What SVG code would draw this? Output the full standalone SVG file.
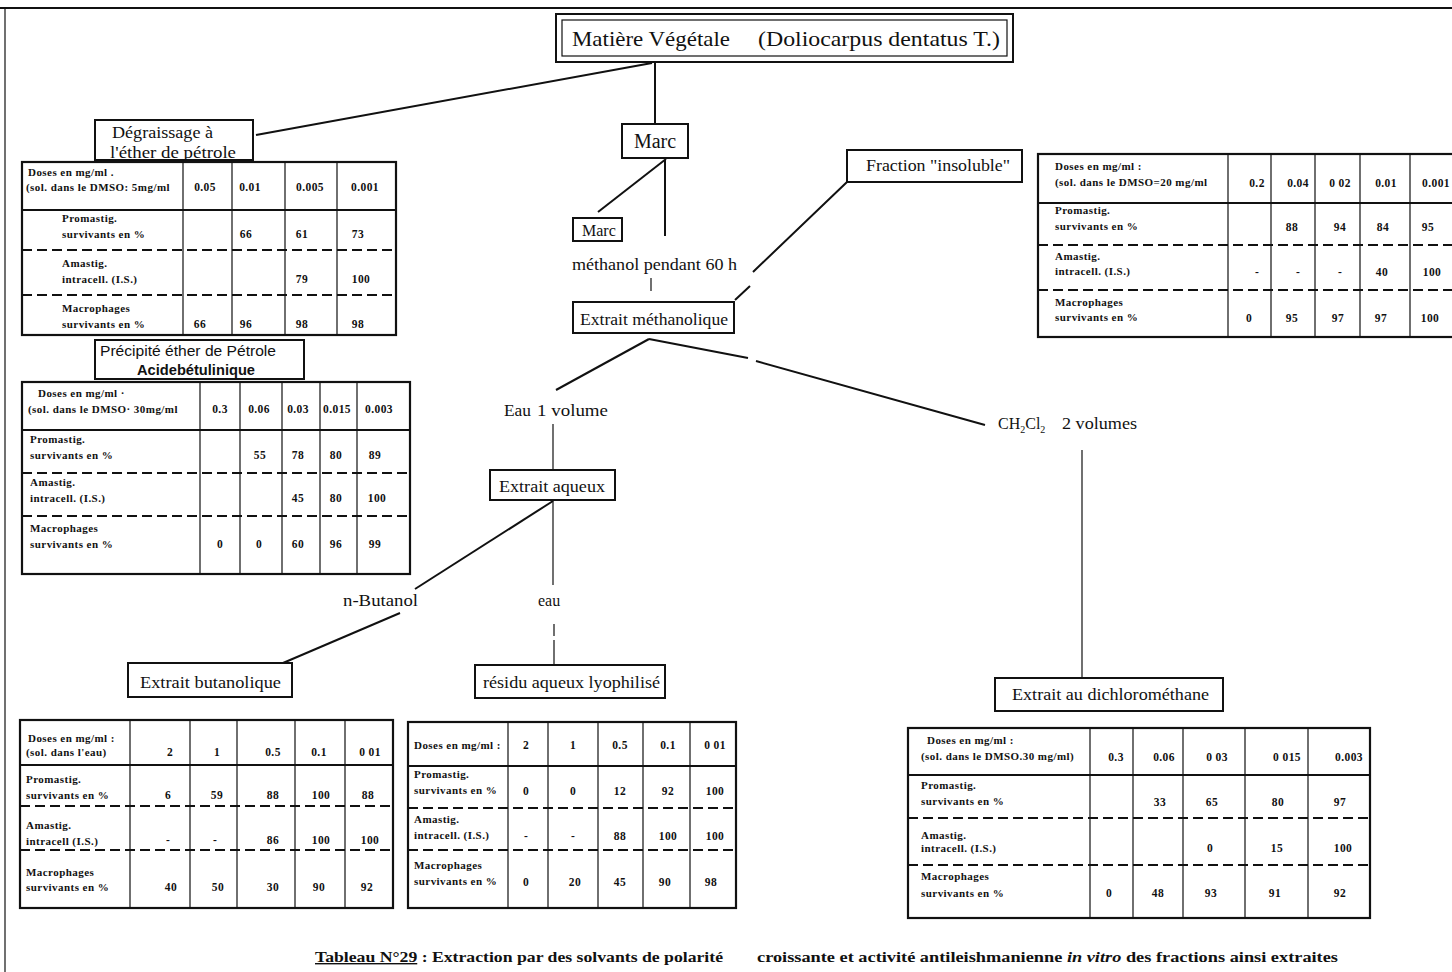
<svg xmlns="http://www.w3.org/2000/svg" width="1452" height="972" viewBox="0 0 1452 972">
<style>
.bg{fill:#fff}
.box{fill:none;stroke:#111;stroke-width:2}
.ln{fill:none;stroke:#111;stroke-width:2}
.thin{stroke-width:1.2}
.tbl{fill:none;stroke:#111;stroke-width:2.2}
.grid{fill:none;stroke:#111;stroke-width:1.2}
.hr{fill:none;stroke:#111;stroke-width:2}
.dash{stroke-dasharray:10 5}
.t{font-family:"Liberation Serif","Times New Roman",serif;fill:#111}
.n16{font-size:16px}
.n20{font-size:20px}
.s{font-family:"Liberation Sans",Arial,sans-serif;fill:#111;font-size:14px}
.c{font-family:"Liberation Serif","Times New Roman",serif;fill:#111;font-size:11px;font-weight:bold;letter-spacing:0.45px}
.v{font-family:"Liberation Serif","Times New Roman",serif;fill:#111;font-size:11.5px;font-weight:bold;text-anchor:middle;letter-spacing:0.4px}
.cap{font-family:"Liberation Serif","Times New Roman",serif;fill:#111;font-size:14px;font-weight:bold}
</style>
<rect class="bg" x="0" y="0" width="1452" height="972"/>

<!-- page frame -->
<g id="frame">
<path class="ln" d="M0 8H1452"/>
<path class="ln thin" d="M5 8V972"/>
</g>

<!-- connectors -->
<g id="connectors">
<path class="ln" d="M655 62V124"/>
<path class="ln" d="M652 63L256 135"/>
<path class="ln" d="M666 159L598 212"/>
<path class="ln" d="M665 160V236"/>
<path class="ln thin" d="M651 278V291"/>
<path class="ln" d="M735 300L750 286M753 272L847 182"/>
<path class="ln" d="M649 339L556 390"/>
<path class="ln" d="M649 339L748 358M756 361L985 425"/>
<path class="ln thin" d="M553 424V470"/>
<path class="ln" d="M553 501L415 589"/>
<path class="ln thin" d="M553 501V585"/>
<path class="ln" d="M400 613L283 663"/>
<path class="ln thin" d="M554 624V636M554 640V665"/>
<path class="ln thin" d="M1082 450V678"/>
</g>

<!-- title -->
<g id="n-matiere">
<rect class="box" x="556" y="14" width="457" height="48"/>
<rect class="box" x="562" y="20" width="445" height="36" style="stroke-width:1.2"/>
<text class="t" x="572" y="46" font-size="21" textLength="158" lengthAdjust="spacingAndGlyphs">Matière Végétale</text>
<text class="t" x="758" y="46" font-size="21" textLength="242" lengthAdjust="spacingAndGlyphs">(Doliocarpus dentatus T.)</text>
</g>

<g id="n-marc">
<rect class="box" x="622" y="124" width="66" height="34"/>
<text class="t n20" x="655" y="148" text-anchor="middle">Marc</text>
</g>

<g id="n-marc2">
<rect class="box" x="573" y="218" width="49" height="23"/>
<text class="t n16" x="582" y="236">Marc</text>
</g>

<g id="n-methanol">
<text class="t n16" x="572" y="270" textLength="165" lengthAdjust="spacingAndGlyphs">méthanol pendant 60 h</text>
</g>

<g id="n-extrait-meth">
<rect class="box" x="573" y="302" width="161" height="31"/>
<text class="t n16" x="580" y="325" textLength="148" lengthAdjust="spacingAndGlyphs">Extrait méthanolique</text>
</g>

<g id="n-insoluble">
<rect class="box" x="847" y="150" width="175" height="32"/>
<text class="t n16" x="866" y="171" textLength="144" lengthAdjust="spacingAndGlyphs">Fraction "insoluble"</text>
</g>

<g id="n-degraissage">
<rect class="box" x="95" y="120" width="158" height="40"/>
<text class="t n16" x="112" y="138" textLength="101" lengthAdjust="spacingAndGlyphs">Dégraissage à</text>
<text class="t n16" x="110" y="158" textLength="126" lengthAdjust="spacingAndGlyphs">l'éther de pétrole</text>
</g>

<g id="n-precipite">
<rect class="box" x="95" y="340" width="209" height="39"/>
<text class="s" x="100" y="356" textLength="176" lengthAdjust="spacingAndGlyphs">Précipité éther de Pétrole</text>
<text class="s" x="137" y="375" font-weight="bold" textLength="118" lengthAdjust="spacingAndGlyphs">Acidebétulinique</text>
</g>

<g id="n-eau1">
<text class="t n16" x="504" y="416" textLength="27" lengthAdjust="spacingAndGlyphs">Eau</text>
<text class="t n16" x="537" y="416" textLength="71" lengthAdjust="spacingAndGlyphs">1 volume</text>
</g>

<g id="n-ch2cl2">
<text class="t n16" x="998" y="429">CH<tspan font-size="10" dy="4">2</tspan><tspan dy="-4">Cl</tspan><tspan font-size="10" dy="4">2</tspan></text>
<text class="t n16" x="1062" y="429" textLength="75" lengthAdjust="spacingAndGlyphs">2 volumes</text>
</g>

<g id="n-extrait-aq">
<rect class="box" x="490" y="470" width="125" height="30"/>
<text class="t n16" x="499" y="492" textLength="106" lengthAdjust="spacingAndGlyphs">Extrait aqueux</text>
</g>

<g id="n-butanol">
<text class="t n16" x="343" y="606" textLength="75" lengthAdjust="spacingAndGlyphs">n-Butanol</text>
</g>

<g id="n-eau2">
<text class="t n16" x="538" y="606">eau</text>
</g>

<g id="n-extrait-but">
<rect class="box" x="128" y="663" width="164" height="34"/>
<text class="t n16" x="140" y="688" textLength="141" lengthAdjust="spacingAndGlyphs">Extrait butanolique</text>
</g>

<g id="n-residu">
<rect class="box" x="475" y="665" width="190" height="33"/>
<text class="t n16" x="483" y="688" textLength="177" lengthAdjust="spacingAndGlyphs">résidu aqueux lyophilisé</text>
</g>

<g id="n-extrait-dcm">
<rect class="box" x="995" y="678" width="228" height="33"/>
<text class="t n16" x="1012" y="700" textLength="197" lengthAdjust="spacingAndGlyphs">Extrait au dichlorométhane</text>
</g>

<!-- activity tables -->
<g id="t-degraissage">
<rect class="tbl" x="22" y="162" width="374" height="173"/>
<path class="grid" d="M183 162V335M232 162V335M285 162V335M337 162V335"/>
<path class="hr" d="M22 210H396"/>
<path class="hr dash" d="M22 250H396M22 295H396"/>
<text class="c" x="28" y="176">Doses en mg/ml .</text>
<text class="c" x="26" y="191">(sol. dans le DMSO: 5mg/ml</text>
<text class="c" x="62" y="222">Promastig.</text>
<text class="c" x="62" y="238">survivants en %</text>
<text class="c" x="62" y="267">Amastig.</text>
<text class="c" x="62" y="283">intracell. (I.S.)</text>
<text class="c" x="62" y="312">Macrophages</text>
<text class="c" x="62" y="328">survivants en %</text>
<text class="v" x="205" y="191">0.05</text><text class="v" x="250" y="191">0.01</text><text class="v" x="310" y="191">0.005</text><text class="v" x="365" y="191">0.001</text>
<text class="v" x="246" y="238">66</text><text class="v" x="302" y="238">61</text><text class="v" x="358" y="238">73</text>
<text class="v" x="302" y="283">79</text><text class="v" x="361" y="283">100</text>
<text class="v" x="200" y="328">66</text><text class="v" x="246" y="328">96</text><text class="v" x="302" y="328">98</text><text class="v" x="358" y="328">98</text>
</g>

<g id="t-precipite">
<rect class="tbl" x="22" y="382" width="388" height="192"/>
<path class="grid" d="M200 382V574M240 382V574M282 382V574M320 382V574M357 382V574"/>
<path class="hr" d="M22 430H410"/>
<path class="hr dash" d="M22 473H410M22 516H410"/>
<text class="c" x="38" y="397">Doses en mg/ml ·</text>
<text class="c" x="28" y="413">(sol. dans le DMSO· 30mg/ml</text>
<text class="c" x="30" y="443">Promastig.</text>
<text class="c" x="30" y="459">survivants en %</text>
<text class="c" x="30" y="486">Amastig.</text>
<text class="c" x="30" y="502">intracell. (I.S.)</text>
<text class="c" x="30" y="532">Macrophages</text>
<text class="c" x="30" y="548">survivants en %</text>
<text class="v" x="220" y="413">0.3</text><text class="v" x="259" y="413">0.06</text><text class="v" x="298" y="413">0.03</text><text class="v" x="337" y="413">0.015</text><text class="v" x="379" y="413">0.003</text>
<text class="v" x="260" y="459">55</text><text class="v" x="298" y="459">78</text><text class="v" x="336" y="459">80</text><text class="v" x="375" y="459">89</text>
<text class="v" x="298" y="502">45</text><text class="v" x="336" y="502">80</text><text class="v" x="377" y="502">100</text>
<text class="v" x="220" y="548">0</text><text class="v" x="259" y="548">0</text><text class="v" x="298" y="548">60</text><text class="v" x="336" y="548">96</text><text class="v" x="375" y="548">99</text>
</g>

<g id="t-insoluble">
<rect class="tbl" x="1038" y="154" width="420" height="183"/>
<path class="grid" d="M1228 154V337M1271 154V337M1315 154V337M1360 154V337M1410 154V337"/>
<path class="hr" d="M1038 203H1458"/>
<path class="hr dash" d="M1038 245H1458M1038 290H1458"/>
<text class="c" x="1055" y="170">Doses en mg/ml :</text>
<text class="c" x="1055" y="186">(sol. dans le DMSO=20 mg/ml</text>
<text class="c" x="1055" y="214">Promastig.</text>
<text class="c" x="1055" y="230">survivants en %</text>
<text class="c" x="1055" y="260">Amastig.</text>
<text class="c" x="1055" y="275">intracell. (I.S.)</text>
<text class="c" x="1055" y="306">Macrophages</text>
<text class="c" x="1055" y="321">survivants en %</text>
<text class="v" x="1257" y="187">0.2</text><text class="v" x="1298" y="187">0.04</text><text class="v" x="1340" y="187">0 02</text><text class="v" x="1386" y="187">0.01</text><text class="v" x="1436" y="187">0.001</text>
<text class="v" x="1292" y="231">88</text><text class="v" x="1340" y="231">94</text><text class="v" x="1383" y="231">84</text><text class="v" x="1428" y="231">95</text>
<text class="v" x="1257" y="276">-</text><text class="v" x="1298" y="276">-</text><text class="v" x="1340" y="276">-</text><text class="v" x="1382" y="276">40</text><text class="v" x="1432" y="276">100</text>
<text class="v" x="1249" y="322">0</text><text class="v" x="1292" y="322">95</text><text class="v" x="1338" y="322">97</text><text class="v" x="1381" y="322">97</text><text class="v" x="1430" y="322">100</text>
</g>

<g id="t-butanolique">
<rect class="tbl" x="20" y="720" width="373" height="188"/>
<path class="grid" d="M130 720V908M190 720V908M237 720V908M295 720V908M345 720V908"/>
<path class="hr" d="M20 765H393"/>
<path class="hr dash" d="M20 806H393M20 850H393"/>
<text class="c" x="28" y="742">Doses en mg/ml :</text>
<text class="c" x="26" y="756">(sol. dans l'eau)</text>
<text class="c" x="26" y="783">Promastig.</text>
<text class="c" x="26" y="799">survivants en %</text>
<text class="c" x="26" y="829">Amastig.</text>
<text class="c" x="26" y="845">intracell (I.S.)</text>
<text class="c" x="26" y="876">Macrophages</text>
<text class="c" x="26" y="891">survivants en %</text>
<text class="v" x="170" y="756">2</text><text class="v" x="217" y="756">1</text><text class="v" x="273" y="756">0.5</text><text class="v" x="319" y="756">0.1</text><text class="v" x="370" y="756">0 01</text>
<text class="v" x="168" y="799">6</text><text class="v" x="217" y="799">59</text><text class="v" x="273" y="799">88</text><text class="v" x="321" y="799">100</text><text class="v" x="368" y="799">88</text>
<text class="v" x="168" y="844">-</text><text class="v" x="215" y="844">-</text><text class="v" x="273" y="844">86</text><text class="v" x="321" y="844">100</text><text class="v" x="370" y="844">100</text>
<text class="v" x="171" y="891">40</text><text class="v" x="218" y="891">50</text><text class="v" x="273" y="891">30</text><text class="v" x="319" y="891">90</text><text class="v" x="367" y="891">92</text>
</g>

<g id="t-residu">
<rect class="tbl" x="408" y="722" width="328" height="186"/>
<path class="grid" d="M508 722V908M548 722V908M598 722V908M643 722V908M690 722V908"/>
<path class="hr" d="M408 766H736"/>
<path class="hr dash" d="M408 808H736M408 850H736"/>
<text class="c" x="414" y="749">Doses en mg/ml :</text>
<text class="c" x="414" y="778">Promastig.</text>
<text class="c" x="414" y="794">survivants en %</text>
<text class="c" x="414" y="823">Amastig.</text>
<text class="c" x="414" y="839">intracell. (I.S.)</text>
<text class="c" x="414" y="869">Macrophages</text>
<text class="c" x="414" y="885">survivants en %</text>
<text class="v" x="526" y="749">2</text><text class="v" x="573" y="749">1</text><text class="v" x="620" y="749">0.5</text><text class="v" x="668" y="749">0.1</text><text class="v" x="715" y="749">0 01</text>
<text class="v" x="526" y="795">0</text><text class="v" x="573" y="795">0</text><text class="v" x="620" y="795">12</text><text class="v" x="668" y="795">92</text><text class="v" x="715" y="795">100</text>
<text class="v" x="526" y="840">-</text><text class="v" x="573" y="840">-</text><text class="v" x="620" y="840">88</text><text class="v" x="668" y="840">100</text><text class="v" x="715" y="840">100</text>
<text class="v" x="526" y="886">0</text><text class="v" x="575" y="886">20</text><text class="v" x="620" y="886">45</text><text class="v" x="665" y="886">90</text><text class="v" x="711" y="886">98</text>
</g>

<g id="t-dichloromethane">
<rect class="tbl" x="908" y="728" width="462" height="190"/>
<path class="grid" d="M1090 728V918M1133 728V918M1183 728V918M1245 728V918M1308 728V918"/>
<path class="hr" d="M908 775H1370"/>
<path class="hr dash" d="M908 818H1370M908 865H1370"/>
<text class="c" x="927" y="744">Doses en mg/ml :</text>
<text class="c" x="921" y="760">(sol. dans le DMSO.30 mg/ml)</text>
<text class="c" x="921" y="789">Promastig.</text>
<text class="c" x="921" y="805">survivants en %</text>
<text class="c" x="921" y="839">Amastig.</text>
<text class="c" x="921" y="852">intracell. (I.S.)</text>
<text class="c" x="921" y="880">Macrophages</text>
<text class="c" x="921" y="897">survivants en %</text>
<text class="v" x="1116" y="761">0.3</text><text class="v" x="1164" y="761">0.06</text><text class="v" x="1217" y="761">0 03</text><text class="v" x="1287" y="761">0 015</text><text class="v" x="1349" y="761">0.003</text>
<text class="v" x="1160" y="806">33</text><text class="v" x="1212" y="806">65</text><text class="v" x="1278" y="806">80</text><text class="v" x="1340" y="806">97</text>
<text class="v" x="1210" y="852">0</text><text class="v" x="1277" y="852">15</text><text class="v" x="1343" y="852">100</text>
<text class="v" x="1109" y="897">0</text><text class="v" x="1158" y="897">48</text><text class="v" x="1211" y="897">93</text><text class="v" x="1275" y="897">91</text><text class="v" x="1340" y="897">92</text>
</g>

<!-- caption -->
<g id="caption">
<text class="cap" x="315" y="962" textLength="408" lengthAdjust="spacingAndGlyphs"><tspan text-decoration="underline">Tableau N°29</tspan> : Extraction par des solvants de polarité</text>
<text class="cap" x="757" y="962" textLength="581" lengthAdjust="spacingAndGlyphs">croissante et activité antileishmanienne <tspan font-style="italic">in vitro</tspan>  des fractions ainsi extraites</text>
</g>
</svg>
